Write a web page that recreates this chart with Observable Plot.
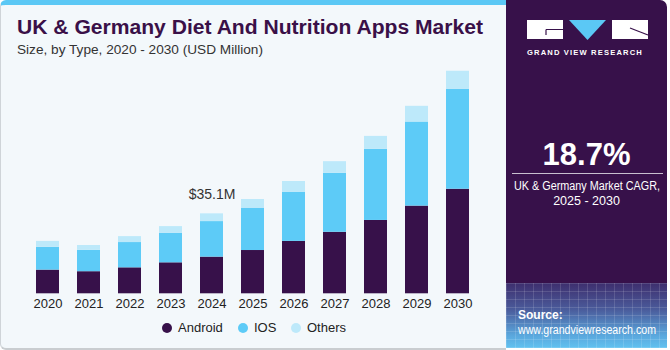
<!DOCTYPE html>
<html>
<head>
<meta charset="utf-8">
<script src="https://cdn.jsdelivr.net/npm/d3@7"></script>
<script src="https://cdn.jsdelivr.net/npm/@observablehq/plot@0.6"></script>
<style>
  html, body { margin: 0; padding: 0; background: #ffffff; }
  body { width: 670px; height: 350px; overflow: hidden; font-family: "Liberation Sans", Arial, sans-serif; }
  #wrap { position: relative; width: 670px; height: 350px; }
  #left { position: absolute; left: 0; top: 0; width: 505px; height: 343px; background: #f3f8fb;
          border-top: 5px solid #5bc8f5; border-left: 1px solid #cfd4d8; border-bottom: 2px solid #c9cdd0;
          border-radius: 6px 0 0 6px; box-sizing: content-box; }
  #title { position: absolute; left: 17px; top: 16px; font-weight: bold; font-size: 20px; color: #3a1048;
           white-space: nowrap; transform-origin: left top; line-height: 22px; }
  #subtitle { position: absolute; left: 17px; top: 42px; font-size: 13.5px; color: #333; white-space: nowrap;
              transform-origin: left top; line-height: 16px; }
  #chart { position: absolute; left: 0; top: 60px; }
  .leg { position: absolute; top: 320px; font-size: 13px; color: #222; line-height: 15px; white-space: nowrap; }
  .dot { position: absolute; top: 323px; width: 10px; height: 10px; border-radius: 50%; }
  #right { position: absolute; left: 506px; top: 0; width: 161px; height: 348px; background: #37114a;
           border-radius: 0 7px 0 0; overflow: hidden; color: #fff; }
  #grad { position: absolute; left: 0; top: 283px; width: 161px; height: 65px;
          background:
            repeating-linear-gradient(90deg, rgba(255,255,255,0.13) 0 1px, transparent 1px 9px),
            repeating-linear-gradient(0deg, rgba(255,255,255,0.13) 0 1px, transparent 1px 8px),
            linear-gradient(180deg, #3e2f6e 0%, #4a5a9a 40%, #5aa6dc 80%, #62c2f0 100%); }
  #brand { position: absolute; left: 21px; top: 48px; font-size: 7.6px; font-weight: bold; letter-spacing: 1.15px; color: #fff; white-space: nowrap; }
  #cagr { position: absolute; left: 0; width: 161px; top: 139px; text-align: center; font-size: 31px; font-weight: bold; line-height: 32px; }
  #rule { position: absolute; left: 6px; width: 151px; top: 173px; height: 1px; background: #c8c0d0; }
  .cg { position: absolute; font-size: 12.5px; line-height: 15px; white-space: nowrap; transform-origin: left top; }
  .src { position: absolute; left: 12px; font-size: 12px; line-height: 15px; white-space: nowrap; transform-origin: left top; }
</style>
</head>
<body>
<div id="wrap">
  <div id="left"></div>
  <div id="title"></div>
  <div id="subtitle"></div>
  <div id="chart"></div>
  <div id="legend"></div>
  <div id="right">
    <svg style="position:absolute;left:0;top:0" width="161" height="45">
      <rect x="21" y="20" width="36" height="19" fill="#ffffff"></rect>
      <path d="M40 29.5 H57" stroke="#37114a" stroke-width="1.2"></path>
      <path d="M40 29.5 V35" stroke="#37114a" stroke-width="1.2"></path>
      <path d="M63 20 H100 L81.5 40 Z" fill="#5bc8f5"></path>
      <rect x="106" y="20" width="36" height="19" fill="#ffffff"></rect>
      <path d="M124 28 L142 35" stroke="#37114a" stroke-width="1.2"></path>
    </svg>
    <div id="brand">GRAND VIEW RESEARCH</div>
    <div id="cagr"></div>
    <div id="rule"></div>
    <div id="cg1" class="cg" style="top:179px"></div>
    <div id="cg2" class="cg" style="top:194px"></div>
    <div id="grad"></div>
    <div id="src1" class="src" style="top:308px;font-weight:bold">Source:</div>
    <div id="src2" class="src" style="top:323px">www.grandviewresearch.com</div>
  </div>
</div>
<script>
// ---- data ----
const titleText = "UK & Germany Diet And Nutrition Apps Market";
const subtitleText = "Size, by Type, 2020 - 2030 (USD Million)";
const years = ["2020", "2021", "2022", "2023", "2024", "2025", "2026", "2027", "2028", "2029", "2030"];
const types = ["Android", "IOS", "Others"];
const android = [10.4, 9.7, 11.4, 13.6, 16.1, 19.0, 23.0, 27.0, 32.2, 38.5, 45.9];
const ios     = [10.0, 9.4, 11.1, 13.0, 15.6, 18.6, 21.6, 25.9, 31.2, 36.9, 43.8];
const others  = [2.6, 2.1, 2.6, 2.9, 3.4, 3.8, 4.7, 5.1, 5.7, 6.9, 8.0];
const colors = ["#37114a", "#5dcbf7", "#bde9fa"];
const annotationYear = "2024";
const annotationValue = 35.1;
const annotationLabel = "$35.1M";
const cagrValue = "18.7%";
const cagrLabel = ["UK & Germany Market CAGR,", "2025 - 2030"];

// ---- table ----
const series = [android, ios, others];
const rows = [];
years.forEach((yr, i) => {
  types.forEach((t, j) => rows.push({year: yr, type: t, value: series[j][i]}));
});

const fontFamily = "'Liberation Sans', Arial, sans-serif";

const chart = Plot.plot({
  width: 500,
  height: 255,
  marginLeft: 11.5,
  marginRight: 7.6,
  marginTop: 5.5,
  marginBottom: 21.7,
  style: {background: "transparent", fontFamily, fontSize: "13px", color: "#222"},
  x: {domain: years, padding: 0.45, align: 0.5, label: null, tickSize: 0, tickPadding: 5},
  y: {domain: [0, 100], axis: null},
  color: {domain: types, range: colors},
  marks: [
    Plot.barY(rows, {x: "year", y: "value", fill: "type"}),
    Plot.text([{year: annotationYear, value: annotationValue, label: annotationLabel}],
      {x: "year", y: "value", text: "label", dy: -19, fontSize: 14, fill: "#333"})
  ]
});
document.getElementById("chart").appendChild(chart);

// ---- texts ----
function fit(el, text, width, centerIn) {
  el.textContent = text;
  const w = el.getBoundingClientRect().width;
  const s = width / w;
  el.style.transform = `scaleX(${s})`;
  if (centerIn !== undefined) el.style.left = ((centerIn - width) / 2) + "px";
}
fit(document.getElementById("title"), titleText, 466);
fit(document.getElementById("subtitle"), subtitleText, 246);
document.getElementById("cagr").textContent = cagrValue;
fit(document.getElementById("cg1"), cagrLabel[0], 146, 161);
const cg2 = document.getElementById("cg2");
cg2.textContent = cagrLabel[1];
const w2 = cg2.getBoundingClientRect().width;
cg2.style.left = ((161 - w2) / 2) + "px";
fit(document.getElementById("src2"), "www.grandviewresearch.com", 138);

// ---- legend ----
const legend = document.getElementById("legend");
const legendX = [162, 238, 291];
types.forEach((t, j) => {
  const d = document.createElement("div");
  d.className = "dot";
  d.style.left = legendX[j] + "px";
  d.style.background = colors[j];
  legend.appendChild(d);
  const l = document.createElement("div");
  l.className = "leg";
  l.style.left = (legendX[j] + 16) + "px";
  l.textContent = t;
  legend.appendChild(l);
});
</script>
</body>
</html>
